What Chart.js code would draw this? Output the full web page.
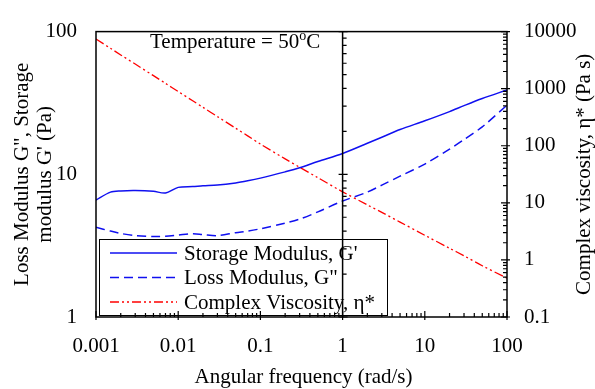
<!DOCTYPE html>
<html>
<head>
<meta charset="utf-8">
<script src="https://cdn.jsdelivr.net/npm/chart.js@4.4.1/dist/chart.umd.min.js"></script>
<style>
  html, body { margin: 0; padding: 0; background: #fff; }
</style>
</head>
<body>
<canvas id="rheoChart" width="595" height="389"></canvas>
<script>
// angular frequency (rad/s)
const omega = [0.001, 0.0015, 0.002, 0.003, 0.005, 0.007, 0.01, 0.015, 0.02, 0.03, 0.05, 0.07,
  0.1, 0.2, 0.3, 0.5, 1, 2, 3, 5, 10, 20, 30, 50, 100];
// G' (Pa)
const storageModulus = [6.6, 7.5, 7.65, 7.7, 7.6, 7.4, 8.1, 8.2, 8.3, 8.4, 8.7, 9.0,
  9.4, 10.4, 11.1, 12.3, 14.0, 16.5, 18.2, 20.6, 23.7, 27.5, 30.3, 34, 39];
// G'' (Pa)
const lossModulus = [4.25, 4.0, 3.85, 3.72, 3.66, 3.68, 3.75, 3.83, 3.78, 3.72, 3.9, 4.0,
  4.15, 4.55, 4.85, 5.45, 6.5, 7.5, 8.4, 9.7, 11.8, 15, 17.5, 21.5, 30.5];
// eta* (Pa s)
const complexViscosity = [7400, 5100, 3900, 2700, 1690, 1240, 890, 614, 471, 324, 203, 149,
  107, 59, 42, 27.6, 15.6, 9.2, 6.8, 4.6, 2.7, 1.6, 1.18, 0.79, 0.48];

const xTickLabels = ['0.001', '0.01', '0.1', '1', '10', '100'];
const leftTickLabels = ['1', '10', '100'];
const rightTickLabels = ['0.1', '1', '10', '100', '1000', '10000'];

const FONT = 'Liberation Serif, Times New Roman, serif';

function toPoints(ys) {
  return omega.map((x, i) => ({ x: x, y: ys[i] }));
}

function labelTicks(labels) {
  return function (scale) {
    scale.ticks = labels.map(t => ({ value: Number(t) }));
  };
}

function labelFor(labels) {
  return function (value) {
    const hit = labels.find(t => Math.abs(Math.log10(Number(t)) - Math.log10(value)) < 1e-6);
    return hit === undefined ? '' : hit;
  };
}

// ticks inward + minor ticks, the x=1 divider, frame, titles and legend
const decorPlugin = {
  id: 'decor',
  afterDatasetsDraw(chart) {
    const ctx = chart.ctx;
    const ca = chart.chartArea;
    const xs = chart.scales.x;
    const yl = chart.scales.y;
    const yr = chart.scales.y2;
    ctx.save();
    ctx.strokeStyle = '#000';
    ctx.fillStyle = '#000';

    // legend box
    const lx = ca.left + 3, ly = ca.bottom - 78, lw = 288, lh = 76;
    ctx.lineWidth = 1;
    ctx.strokeRect(lx + 0.5, ly + 0.5, lw, lh);
    ctx.font = '21px ' + FONT;
    ctx.textBaseline = 'middle';
    ctx.textAlign = 'left';
    chart.data.datasets.forEach((ds, i) => {
      const yy = ly + 14 + i * 24.5;
      ctx.save();
      ctx.strokeStyle = ds.borderColor;
      ctx.lineWidth = ds.borderWidth;
      ctx.setLineDash(ds.borderDash || []);
      ctx.beginPath();
      ctx.moveTo(lx + 11, yy);
      ctx.lineTo(lx + 78, yy);
      ctx.stroke();
      ctx.restore();
      ctx.fillText(ds.label, lx + 85, yy + 1);
    });

    // frame
    ctx.lineWidth = 1.5;
    ctx.strokeRect(ca.left, ca.top, ca.right - ca.left, ca.bottom - ca.top);

    // divider at omega = 1 (carries the left axis ticks)
    const xd = xs.getPixelForValue(1);
    ctx.beginPath();
    ctx.moveTo(xd, ca.top);
    ctx.lineTo(xd, ca.bottom);
    ctx.stroke();

    ctx.lineWidth = 1.2;
    function decades(scale, fn) {
      const e0 = Math.round(Math.log10(scale.min));
      const e1 = Math.round(Math.log10(scale.max));
      for (let e = e0; e <= e1; e++) {
        for (let m = 1; m <= 9; m++) {
          const v = m * Math.pow(10, e);
          if (v < scale.min * 0.999 || v > scale.max * 1.001) continue;
          fn(scale.getPixelForValue(v), m === 1);
        }
      }
    }
    ctx.beginPath();
    decades(xs, (p, major) => {
      ctx.moveTo(p, ca.bottom + (major ? 3 : 0));
      ctx.lineTo(p, ca.bottom - (major ? 6 : 4));
    });
    decades(yr, (p, major) => {
      ctx.moveTo(ca.right + (major ? 3 : 0), p);
      ctx.lineTo(ca.right - (major ? 6 : 4), p);
    });
    decades(yl, (p, major) => {
      ctx.moveTo(xd - (major ? 4 : 0), p);
      ctx.lineTo(xd + (major ? 5 : 4), p);
    });
    ctx.stroke();

    // annotation
    ctx.font = '21px ' + FONT;
    ctx.textBaseline = 'alphabetic';
    ctx.textAlign = 'left';
    let tx = 150;
    const ty = 48;
    const main = 'Temperature = 50';
    ctx.fillText(main, tx, ty);
    tx += ctx.measureText(main).width;
    ctx.font = '14px ' + FONT;
    ctx.fillText('o', tx, ty - 8);
    tx += ctx.measureText('o').width;
    ctx.font = '21px ' + FONT;
    ctx.fillText('C', tx, ty);

    // axis titles
    const midY = (ca.top + ca.bottom) / 2;
    ctx.textAlign = 'center';
    ctx.textBaseline = 'middle';
    ctx.fillText('Angular frequency (rad/s)', (ca.left + ca.right) / 2 + 2, 377);
    ctx.save();
    ctx.translate(22, midY);
    ctx.rotate(-Math.PI / 2);
    ctx.fillText('Loss Modulus G", Storage', 0, 0);
    ctx.fillText("modulus G' (Pa)", 0, 23);
    ctx.restore();
    ctx.save();
    ctx.translate(584, midY);
    ctx.rotate(-Math.PI / 2);
    ctx.fillText('Complex viscosity, \u03b7* (Pa s)', 0, 0);
    ctx.restore();

    ctx.restore();
  }
};

const tickFont = { family: FONT, size: 21 };

new Chart(document.getElementById('rheoChart').getContext('2d'), {
  type: 'line',
  data: {
    datasets: [
      {
        label: "Storage Modulus, G'",
        data: toPoints(storageModulus),
        yAxisID: 'y',
        borderColor: '#1010f0',
        borderWidth: 1.5,
        pointRadius: 0,
        tension: 0.3,
        fill: false,
      },
      {
        label: 'Loss Modulus, G"',
        data: toPoints(lossModulus),
        yAxisID: 'y',
        borderColor: '#1010f0',
        borderWidth: 1.5,
        borderDash: [9, 5],
        pointRadius: 0,
        tension: 0.3,
        fill: false,
      },
      {
        label: 'Complex Viscosity, \u03b7*',
        data: toPoints(complexViscosity),
        yAxisID: 'y2',
        borderColor: '#ff0000',
        borderWidth: 1.3,
        borderDash: [9, 3, 2, 3, 2, 3],
        pointRadius: 0,
        tension: 0.3,
        fill: false,
      },
    ],
  },
  options: {
    responsive: false,
    animation: false,
    devicePixelRatio: 1,
    layout: { padding: { top: 20, left: 0, right: 0, bottom: 0 } },
    plugins: {
      legend: { display: false },
      tooltip: { enabled: false },
    },
    scales: {
      x: {
        type: 'logarithmic',
        min: 0.001,
        max: 100,
        grid: { display: false, drawTicks: false },
        border: { display: false },
        afterBuildTicks: labelTicks(xTickLabels),
        afterFit: s => { s.height = 72; },
        ticks: {
          autoSkip: false,
          maxRotation: 0,
          padding: 17,
          color: '#000',
          font: tickFont,
          callback: labelFor(xTickLabels),
        },
      },
      y: {
        type: 'logarithmic',
        position: 'left',
        min: 1,
        max: 100,
        grid: { display: false, drawTicks: false },
        border: { display: false },
        afterBuildTicks: labelTicks(leftTickLabels),
        afterFit: s => { s.width = 96; },
        ticks: {
          autoSkip: false,
          padding: 19,
          color: '#000',
          font: tickFont,
          callback: labelFor(leftTickLabels),
        },
      },
      y2: {
        type: 'logarithmic',
        position: 'right',
        min: 0.1,
        max: 10000,
        grid: { display: false, drawTicks: false },
        border: { display: false },
        afterBuildTicks: labelTicks(rightTickLabels),
        afterFit: s => { s.width = 88; },
        ticks: {
          autoSkip: false,
          padding: 17,
          color: '#000',
          font: tickFont,
          callback: labelFor(rightTickLabels),
        },
      },
    },
  },
  plugins: [decorPlugin],
});
</script>
</body>
</html>
